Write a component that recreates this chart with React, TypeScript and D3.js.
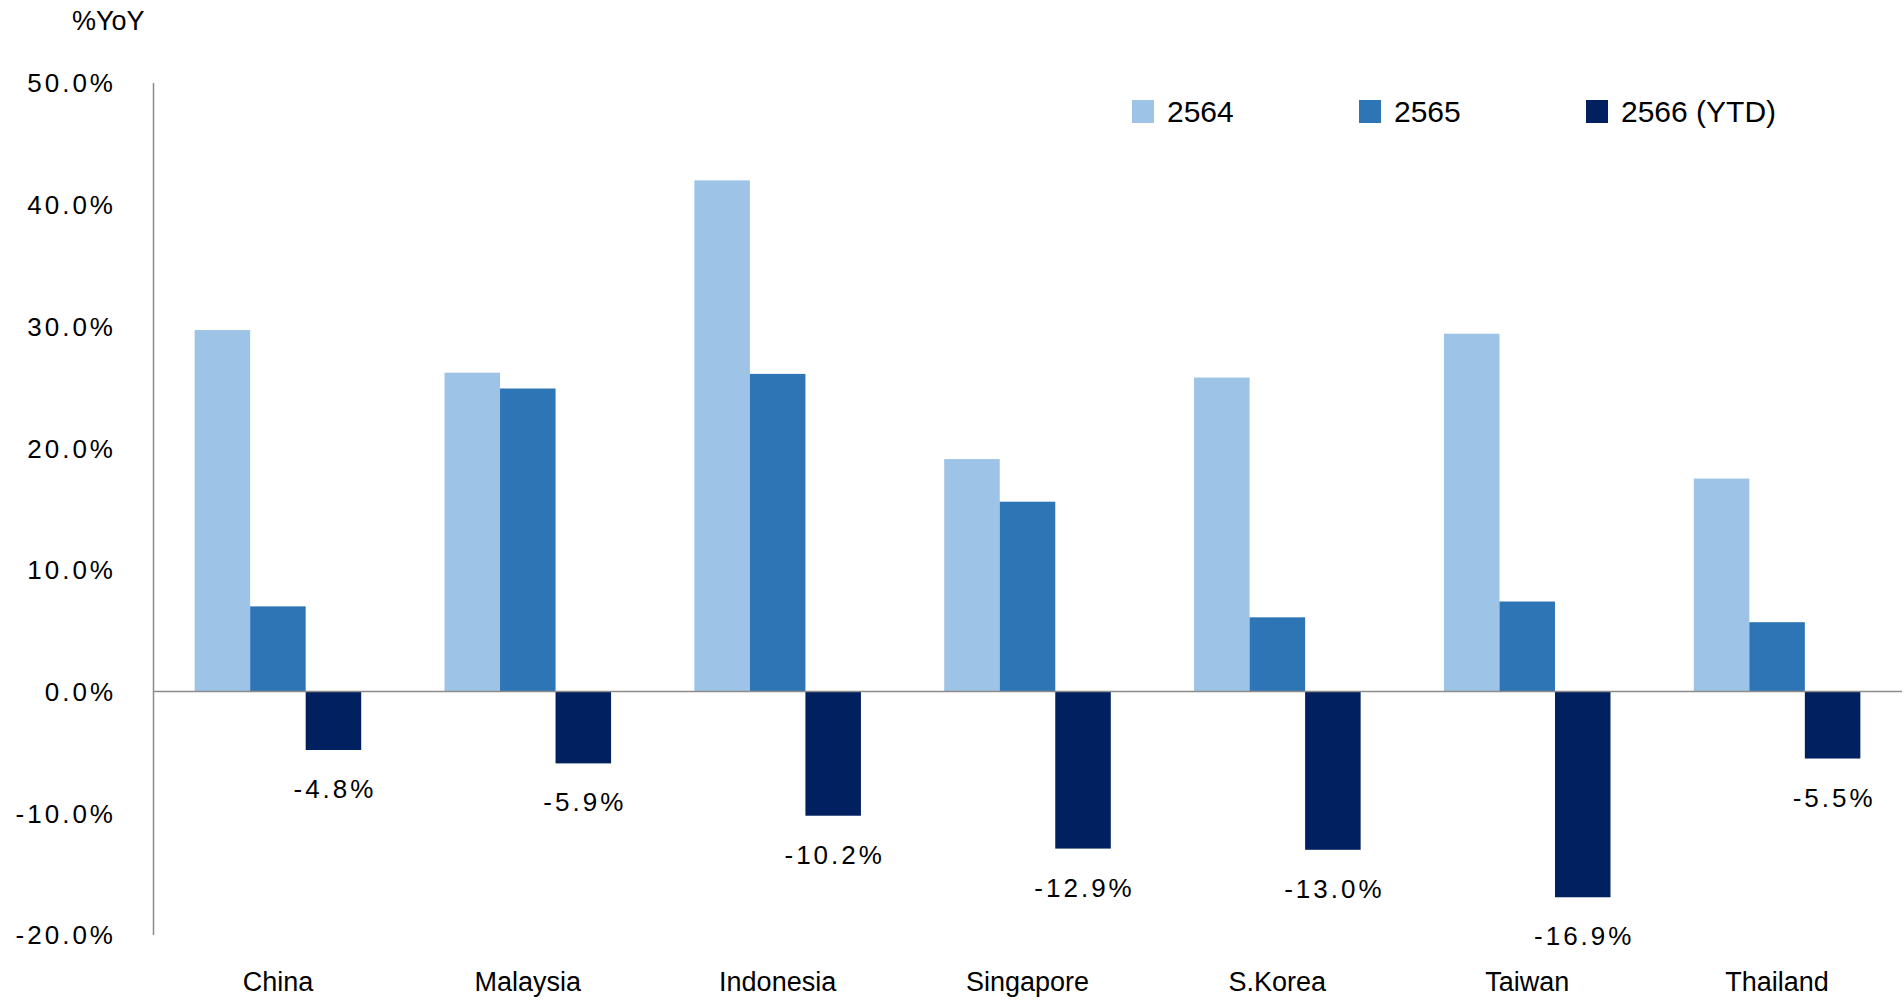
import React from "react";
import * as d3 from "d3";

const categories = ["China", "Malaysia", "Indonesia", "Singapore", "S.Korea", "Taiwan", "Thailand"];
const seriesNames = ["2564", "2565", "2566 (YTD)"];
const values2564 = [29.7, 26.2, 42.0, 19.1, 25.8, 29.4, 17.5];
const values2565 = [7.0, 24.9, 26.1, 15.6, 6.1, 7.4, 5.7];
const values2566 = [-4.8, -5.9, -10.2, -12.9, -13.0, -16.9, -5.5];
const yTicks = [50, 40, 30, 20, 10, 0, -10, -20];
const colors = ["#9DC3E6", "#2E75B6", "#002060"];

const W = 1904;
const H = 1000;
const FONT = "'Liberation Sans', Arial, sans-serif";

export default function App() {
  const series = [values2564, values2565, values2566];
  const x0 = d3.scaleBand<string>().domain(categories).range([153, 1902]).padding(0);
  const x1 = d3
    .scaleBand<string>()
    .domain(seriesNames)
    .range([0, x0.bandwidth()])
    .paddingInner(0)
    .paddingOuter(0.75);
  const y = d3.scaleLinear().domain([-20, 50]).range([935, 83]);
  const fmt = (v: number) => `${v.toFixed(1)}%`;

  const legendX = [1132, 1359, 1586];
  const ls = 3;

  return (
    <svg
      width={W}
      height={H}
      style={{ position: "absolute", left: 0, top: 0, background: "#fff" }}
      fontFamily={FONT}
    >
      <rect x={0} y={0} width={W} height={H} fill="#fff" />
      {/* y title */}
      <text x={72} y={30} fontSize={27} fill="#000">%YoY</text>

      {/* y tick labels */}
      {yTicks.map((t) => (
        <text
          key={t}
          x={113 + ls}
          y={y(t)}
          dy="0.36em"
          textAnchor="end"
          fontSize={26}
          letterSpacing={ls}
          fill="#000"
        >
          {fmt(t)}
        </text>
      ))}

      {/* bars */}
      {categories.map((c, i) => (
        <g key={c} transform={`translate(${x0(c)},0)`}>
          {series.map((vals, s) => {
            const v = vals[i];
            const yTop = y(Math.max(0, v));
            const yBot = y(Math.min(0, v));
            return (
              <rect
                key={s}
                x={x1(seriesNames[s])}
                y={yTop}
                width={x1.bandwidth()}
                height={yBot - yTop}
                fill={colors[s]}
              />
            );
          })}
        </g>
      ))}

      {/* axes lines */}
      <line x1={153.5} x2={153.5} y1={y(50)} y2={y(-20)} stroke="#8c8c8c" strokeWidth={1.5} />
      <line x1={153} x2={1902} y1={y(0)} y2={y(0)} stroke="#8c8c8c" strokeWidth={1.5} />

      {/* data labels for 2566 */}
      {categories.map((c, i) => {
        const v = values2566[i];
        const cx = (x0(c) ?? 0) + (x1(seriesNames[2]) ?? 0) + x1.bandwidth() / 2;
        return (
          <text
            key={c}
            x={cx + ls / 2}
            y={y(v) + 48}
            textAnchor="middle"
            fontSize={26}
            letterSpacing={ls}
            fill="#000"
          >
            {fmt(v)}
          </text>
        );
      })}

      {/* category labels */}
      {categories.map((c) => (
        <text
          key={c}
          x={(x0(c) ?? 0) + x0.bandwidth() / 2}
          y={991}
          textAnchor="middle"
          fontSize={27}
          fill="#000"
        >
          {c}
        </text>
      ))}

      {/* legend */}
      {seriesNames.map((n, i) => (
        <g key={n}>
          <rect x={legendX[i]} y={100} width={22} height={23} fill={colors[i]} />
          <text x={legendX[i] + 35} y={122} fontSize={30} fill="#000">
            {n}
          </text>
        </g>
      ))}
    </svg>
  );
}
